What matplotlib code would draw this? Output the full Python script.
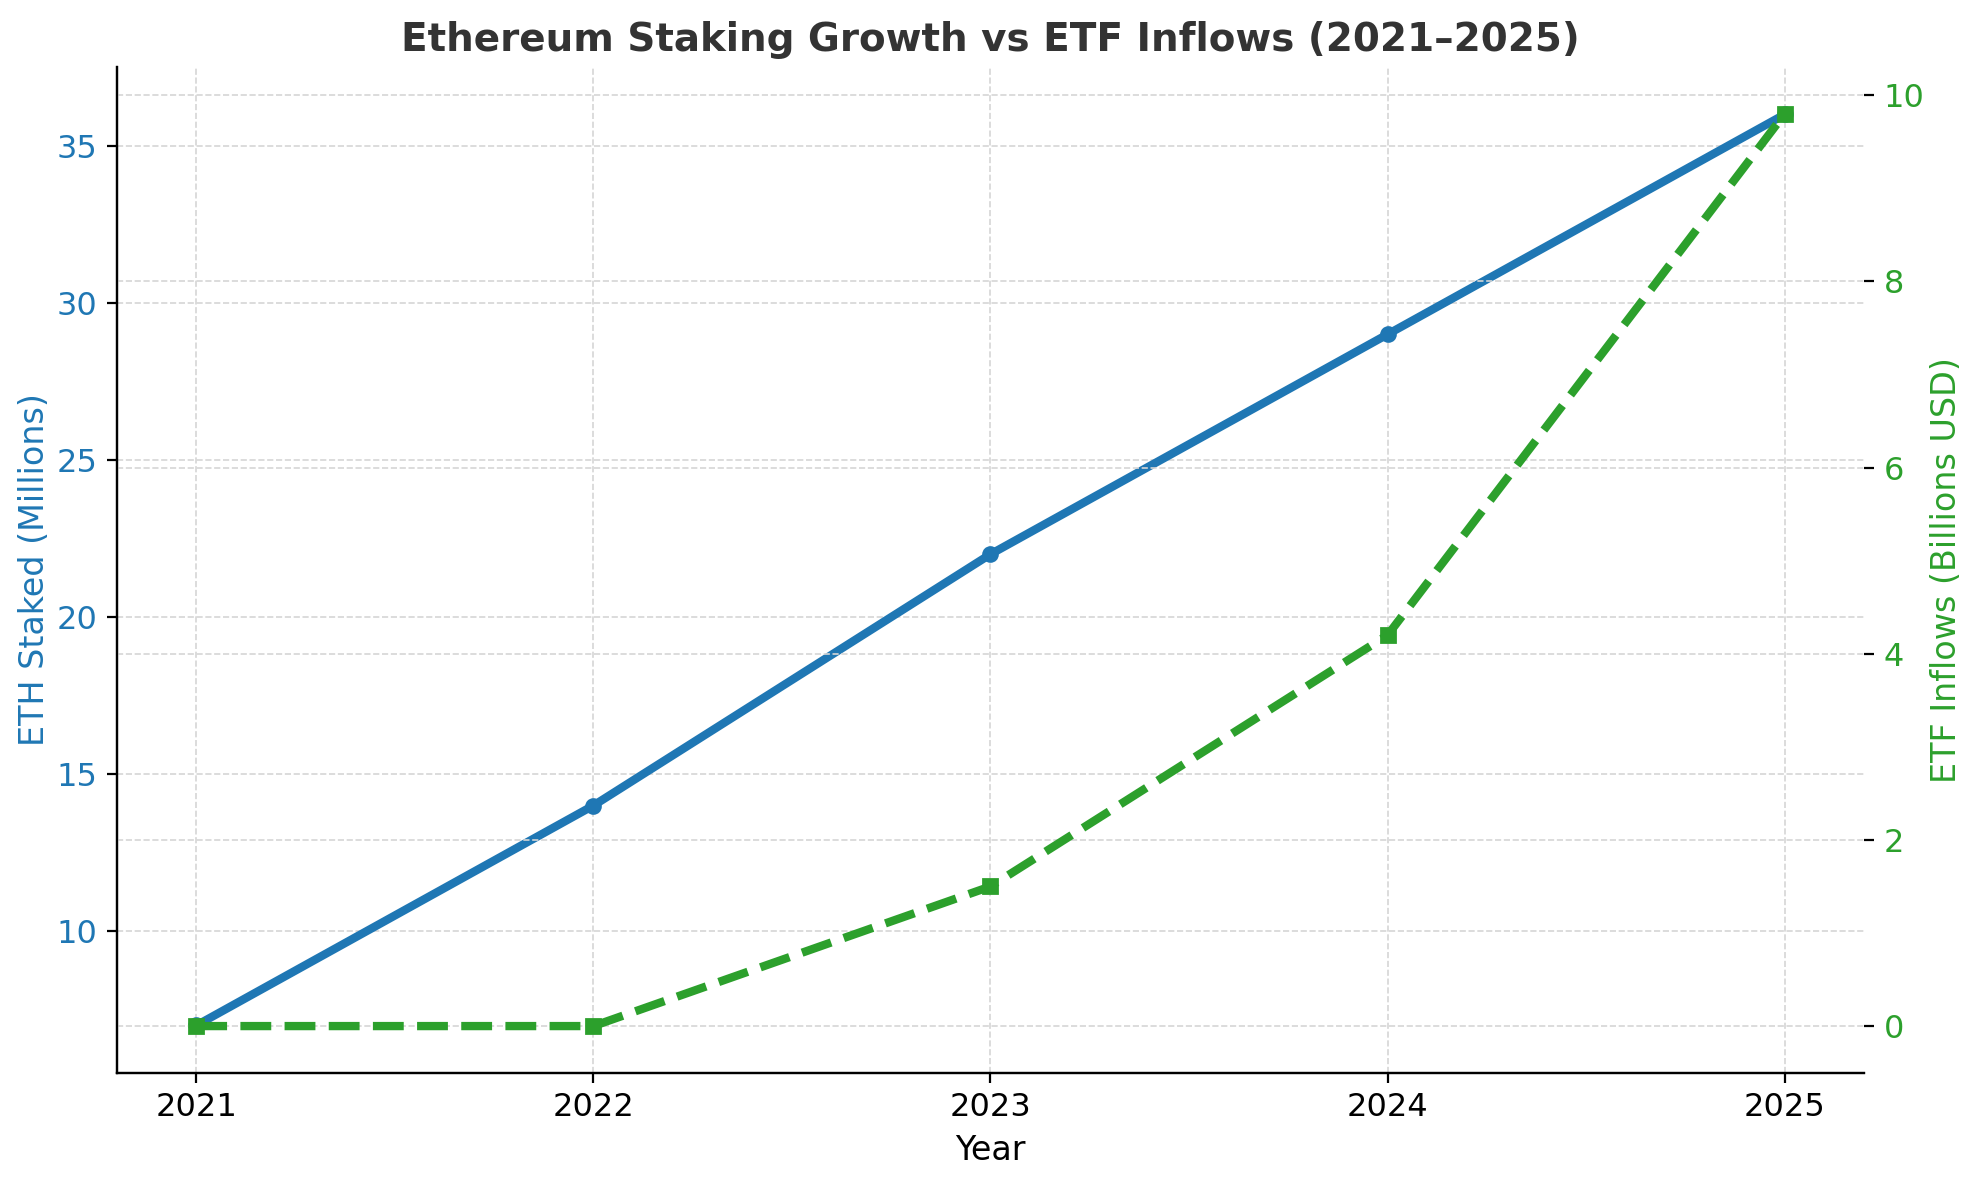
import matplotlib.pyplot as plt
import numpy as np

years = [2021, 2022, 2023, 2024, 2025]
eth_staked = [7, 14, 22, 29, 36]
etf_inflows = [0, 0, 1.5, 4.2, 9.8]

blue = '#1f77b4'
green = '#2ca02c'

fig, ax1 = plt.subplots(figsize=(9.9, 5.9), dpi=200)

ax1.plot(years, eth_staked, color=blue, linewidth=3, marker='o', markersize=5)
ax1.set_xlabel('Year', fontsize=12)
ax1.set_ylabel('ETH Staked (Millions)', color=blue, fontsize=12, labelpad=2)
ax1.tick_params(axis='y', labelcolor=blue, labelsize=11.5)
ax1.tick_params(axis='x', labelsize=11.5)
ax1.set_xticks(years)
ax1.set_ylim(5.5, 37.5)
ax1.grid(True, linestyle='--', color='#d5d5d5', linewidth=0.6)

ax2 = ax1.twinx()
ax2.plot(years, etf_inflows, color=green, linewidth=3, linestyle='--', marker='s', markersize=5)
ax2.set_ylabel('ETF Inflows (Billions USD)', color=green, fontsize=12, labelpad=2)
ax2.tick_params(axis='y', labelcolor=green, labelsize=11.5)
ax2.set_ylim(-0.5, 10.3)
ax2.grid(True, linestyle='--', color='#d5d5d5', linewidth=0.6)

for a in (ax1, ax2):
    a.spines['top'].set_visible(False)
    a.spines['right'].set_visible(False)

ax1.set_title('Ethereum Staking Growth vs ETF Inflows (2021\u20132025)',
              fontsize=14, fontweight='bold', color='#333333')

fig.subplots_adjust(left=0.059, right=0.9415, top=0.943, bottom=0.091)
fig.savefig('out.png', dpi=200)
